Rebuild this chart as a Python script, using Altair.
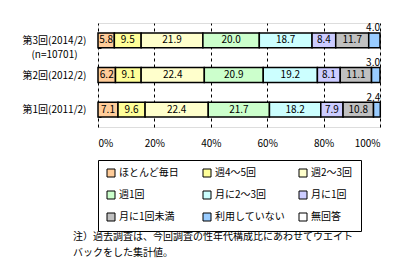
import altair as alt
import pandas as pd

surveys = ["第3回(2014/2)", "第2回(2012/2)", "第1回(2011/2)"]
categories = ["ほとんど毎日", "週4～5回", "週2～3回", "週1回", "月に2～3回",
              "月に1回", "月に1回未満", "利用していない", "無回答"]
colors = ["#FFCC99", "#FFFF99", "#FFFFCC", "#CCFFCC", "#CCFFFF",
          "#CCCCFF", "#C0C0C0", "#99CCFF", "#FFFFFF"]
values_2014 = [5.8, 9.5, 21.9, 20.0, 18.7, 8.4, 11.7, 4.0]
values_2012 = [6.2, 9.1, 22.4, 20.9, 19.2, 8.1, 11.1, 3.0]
values_2011 = [7.1, 9.6, 22.4, 21.7, 18.2, 7.9, 10.8, 2.4]
note_lines = ["注）過去調査は、今回調査の性年代構成比にあわせてウエイト",
              "バックをした集計値。"]
x_ticks = [0, 20, 40, 60, 80, 100]

rows = []
for s, vals in zip(surveys, [values_2014, values_2012, values_2011]):
    for i, v in enumerate(vals):
        rows.append({"survey": s, "cat": categories[i], "order": i, "value": v})
df = pd.DataFrame(rows)

FONT = "Noto Sans CJK JP"
last_cat = categories[7]

base = alt.Chart(df).transform_window(
    cum="sum(value)", groupby=["survey"], sort=[{"field": "order"}]
).transform_calculate(
    start="datum.cum - datum.value",
    mid="datum.cum - datum.value / 2",
)

yenc = alt.Y("survey:N", sort=surveys, title=None,
             scale=alt.Scale(paddingInner=0.57, paddingOuter=0.285),
             axis=alt.Axis(
                 labelExpr="datum.value == '第3回(2014/2)' ? ['第3回(2014/2)', '(n=10701)'] : datum.value",
                 labelAlign="center", labelPadding=44, labelLineHeight=14,
                 labelFont=FONT, labelFontSize=10, labelColor="black",
                 tickBand="extent", tickSize=3, tickColor="black", offset=-3,
                 domain=False))

bars = base.mark_bar(stroke="black", strokeWidth=1.5).encode(
    x=alt.X("start:Q", scale=alt.Scale(domain=[0, 100], nice=False),
            title=None,
            axis=alt.Axis(values=x_ticks, labelExpr="datum.value + '%'",
                          ticks=False, domain=False, labelPadding=11,
                          labelFont=FONT, labelFontSize=10, labelColor="black",
                          grid=True, gridColor="black", gridDash=[3, 3],
                          gridWidth=1, gridOpacity=1)),
    x2="cum:Q",
    y=yenc,
    color=alt.Color("cat:N", scale=alt.Scale(domain=categories, range=colors),
                    legend=alt.Legend(
                        title=None, orient="none", legendX=0, legendY=137,
                        direction="horizontal",
                        columns=3, symbolType="square", symbolSize=64,
                        symbolStrokeColor="black", symbolStrokeWidth=1,
                        symbolOpacity=1, labelFont=FONT, labelFontSize=10,
                        labelColor="black", labelOffset=3,
                        strokeColor="black", padding=8, gridAlign="all",
                        columnPadding=12, rowPadding=10)),
)

inner = base.transform_filter(f"datum.cat != '{last_cat}'").mark_text(
    font=FONT, fontSize=10, color="black"
).encode(
    x="mid:Q", y=alt.Y("survey:N", sort=surveys),
    text=alt.Text("value:Q", format=".1f"),
)

outer = base.transform_filter(f"datum.cat == '{last_cat}'").mark_text(
    font=FONT, fontSize=10, color="black", align="right", baseline="bottom",
    dy=-7
).encode(
    x="cum:Q", y=alt.Y("survey:N", sort=surveys),
    text=alt.Text("value:Q", format=".1f"),
)

chart = alt.layer(bars, inner, outer).properties(
    width=282, height=104,
    autosize=alt.AutoSizeParams(type="none"),
    padding={"left": 98, "top": 23, "right": 32, "bottom": 145},
    title=alt.TitleParams(text=note_lines, orient="bottom", anchor="start",
                          frame="group", font=FONT, fontSize=10,
                          fontWeight="normal", color="black", dx=-25,
                          lineHeight=16, offset=0),
).configure_view(stroke="black", strokeWidth=1).configure(background="white")

chart.save("out.html", embed_options={"renderer": "svg", "actions": False})
